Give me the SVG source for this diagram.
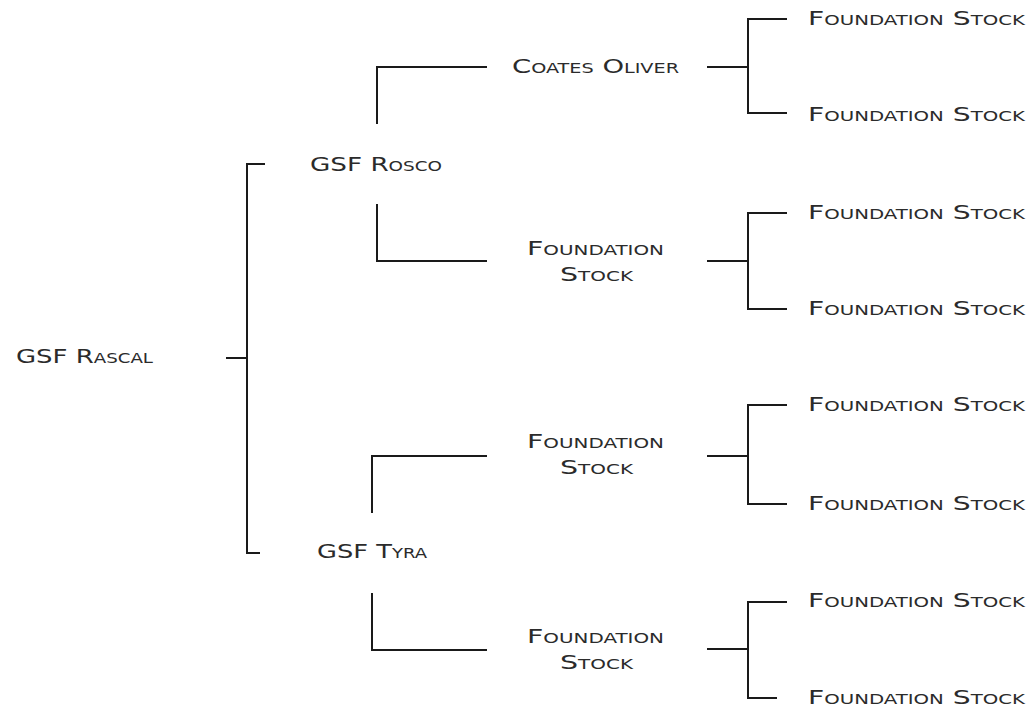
<svg xmlns="http://www.w3.org/2000/svg" width="1031" height="711" viewBox="0 0 1031 711">
<style>
.t{font-family:"DejaVu Sans","Liberation Sans",sans-serif;font-size:20px;font-variant:small-caps;fill:#2b2b2b}
.c{fill:none;stroke:#1a1a1a;stroke-width:2}
</style>
<rect width="1031" height="711" fill="#ffffff"/>
<g id="connectors">
<path class="c" d="M226 358H247M265 164H247V553H260"/>
<path class="c" d="M377 124V67H487M377 204V261H487"/>
<path class="c" d="M372 513V456H487M372 593V650H487"/>
<path class="c" d="M707 67H748M787 19H748V113H787"/>
<path class="c" d="M707 261H748M787 213H748V309H787"/>
<path class="c" d="M707 456H748M787 405H748V504H787"/>
<path class="c" d="M707 649H748M787 602H748V698H777"/>
</g>
<g id="n-rascal"><text class="t" x="16" y="363" textLength="137" lengthAdjust="spacingAndGlyphs">GSF Rascal</text></g>
<g id="n-rosco"><text class="t" x="310" y="171" textLength="132" lengthAdjust="spacingAndGlyphs">GSF Rosco</text></g>
<g id="n-tyra"><text class="t" x="317" y="558" textLength="110" lengthAdjust="spacingAndGlyphs">GSF Tyra</text></g>
<g id="n-coates"><text class="t" x="512" y="73" textLength="167" lengthAdjust="spacingAndGlyphs">Coates Oliver</text></g>
<g id="n-fs-rosco"><text class="t" x="527" y="255" textLength="137" lengthAdjust="spacingAndGlyphs">Foundation</text><text class="t" x="560" y="281" textLength="73" lengthAdjust="spacingAndGlyphs">Stock</text></g>
<g id="n-fs-tyra1"><text class="t" x="527" y="448" textLength="137" lengthAdjust="spacingAndGlyphs">Foundation</text><text class="t" x="560" y="474" textLength="73" lengthAdjust="spacingAndGlyphs">Stock</text></g>
<g id="n-fs-tyra2"><text class="t" x="527" y="643" textLength="137" lengthAdjust="spacingAndGlyphs">Foundation</text><text class="t" x="560" y="669" textLength="73" lengthAdjust="spacingAndGlyphs">Stock</text></g>
<g id="n-leaf1"><text class="t" x="808" y="25" textLength="217" lengthAdjust="spacingAndGlyphs">Foundation Stock</text></g>
<g id="n-leaf2"><text class="t" x="808" y="121" textLength="217" lengthAdjust="spacingAndGlyphs">Foundation Stock</text></g>
<g id="n-leaf3"><text class="t" x="808" y="219" textLength="217" lengthAdjust="spacingAndGlyphs">Foundation Stock</text></g>
<g id="n-leaf4"><text class="t" x="808" y="315" textLength="217" lengthAdjust="spacingAndGlyphs">Foundation Stock</text></g>
<g id="n-leaf5"><text class="t" x="808" y="411" textLength="217" lengthAdjust="spacingAndGlyphs">Foundation Stock</text></g>
<g id="n-leaf6"><text class="t" x="808" y="510" textLength="217" lengthAdjust="spacingAndGlyphs">Foundation Stock</text></g>
<g id="n-leaf7"><text class="t" x="808" y="607" textLength="217" lengthAdjust="spacingAndGlyphs">Foundation Stock</text></g>
<g id="n-leaf8"><text class="t" x="808" y="704" textLength="217" lengthAdjust="spacingAndGlyphs">Foundation Stock</text></g>
</svg>
